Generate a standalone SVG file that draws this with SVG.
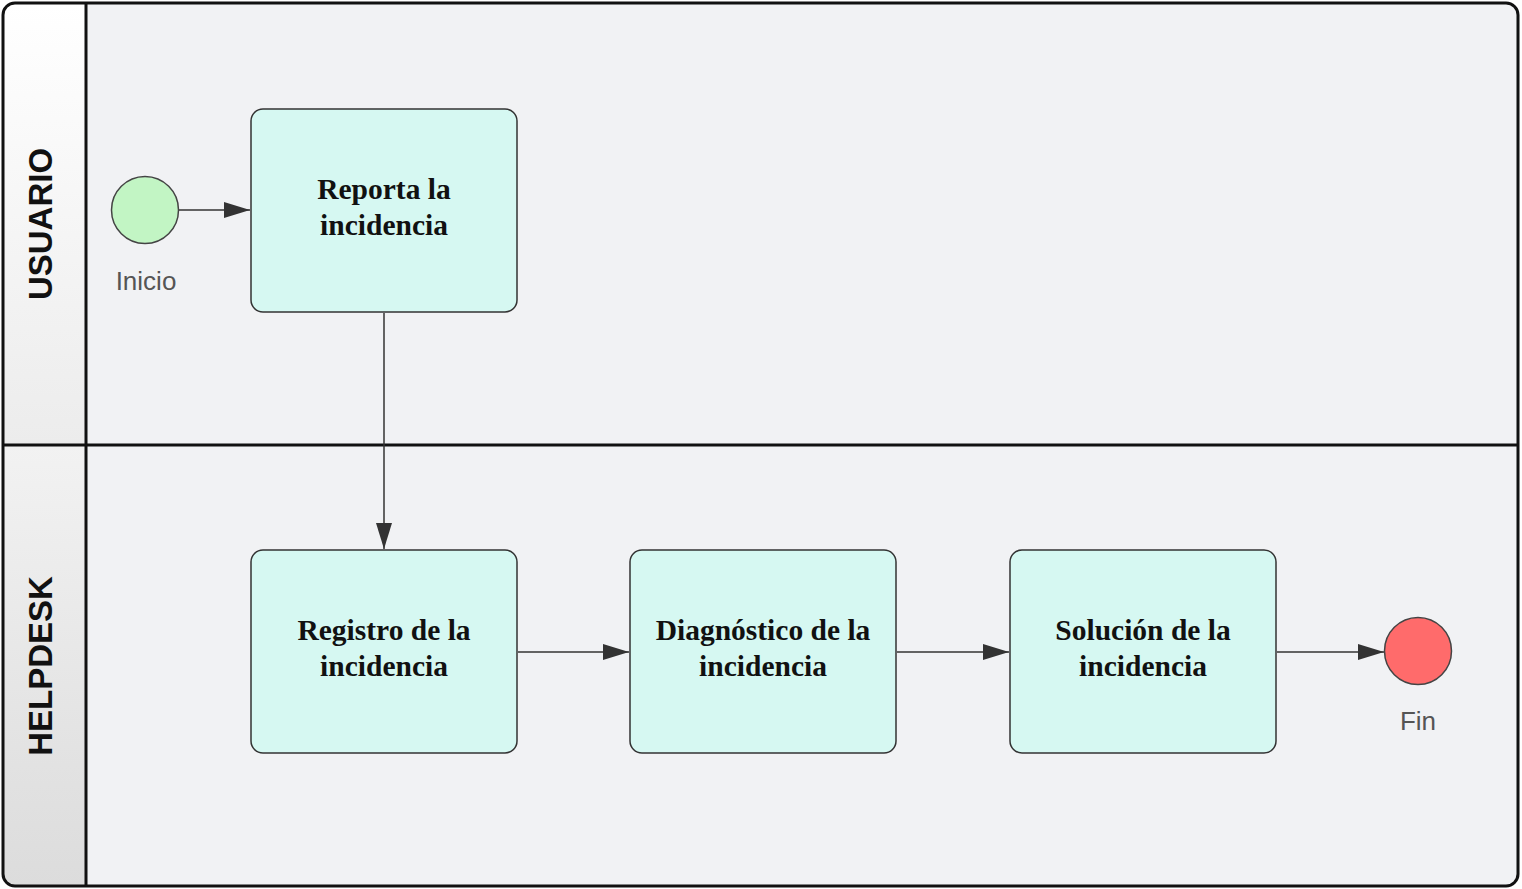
<svg xmlns="http://www.w3.org/2000/svg" width="1522" height="889" viewBox="0 0 1522 889">
<defs>
<linearGradient id="hdr1" x1="0" y1="0" x2="0" y2="1"><stop offset="0" stop-color="#ffffff"/><stop offset="1" stop-color="#ececec"/></linearGradient>
<linearGradient id="hdr2" x1="0" y1="0" x2="0" y2="1"><stop offset="0" stop-color="#f2f2f2"/><stop offset="1" stop-color="#dcdcdc"/></linearGradient>
<clipPath id="pool"><rect x="3" y="3" width="1515" height="883" rx="12"/></clipPath>
<marker id="arr" viewBox="0 0 26 16" refX="26" refY="8" markerWidth="26" markerHeight="16" markerUnits="userSpaceOnUse" orient="auto"><path d="M0,0 L26,8 L0,16 Z" fill="#333"/></marker>
</defs>
<style>
.task{fill:#d6f8f2;stroke:#333;stroke-width:1.5}
.tt{font-family:"Liberation Serif",serif;font-weight:bold;font-size:29.5px;fill:#111;text-anchor:middle}
.lane{font-family:"Liberation Sans",sans-serif;font-weight:bold;font-size:33px;fill:#111;text-anchor:middle}
.lbl{font-family:"Liberation Sans",sans-serif;font-size:26px;fill:#555;text-anchor:middle}
.conn{fill:none;stroke:#333;stroke-width:1.5;marker-end:url(#arr)}
</style>
<g id="pool-bg" clip-path="url(#pool)">
<rect x="3" y="3" width="1515" height="883" fill="#f1f2f4"/>
<rect x="3" y="3" width="83" height="442" fill="url(#hdr1)"/>
<rect x="3" y="445" width="83" height="441" fill="url(#hdr2)"/>
</g>
<g id="pool-lines" fill="none" stroke="#111" stroke-width="3">
<rect x="3" y="3" width="1515" height="883" rx="12"/>
<line x1="86" y1="3" x2="86" y2="886"/>
<line x1="3" y1="445" x2="1518" y2="445"/>
</g>
<g id="lane-usuario"><text class="lane" transform="translate(52,224) rotate(-90)">USUARIO</text></g>
<g id="lane-helpdesk"><text class="lane" transform="translate(52,666) rotate(-90)">HELPDESK</text></g>
<g id="connectors">
<line class="conn" x1="179" y1="210" x2="250" y2="210"/>
<line class="conn" x1="384" y1="313" x2="384" y2="549"/>
<line class="conn" x1="518" y1="652" x2="629" y2="652"/>
<line class="conn" x1="897" y1="652" x2="1009" y2="652"/>
<line class="conn" x1="1277" y1="652" x2="1384" y2="652"/>
</g>
<g id="start"><circle cx="145" cy="210" r="33.5" fill="#c2f5c4" stroke="#444" stroke-width="1.5"/><text class="lbl" x="146" y="290">Inicio</text></g>
<g id="task-reporta"><rect class="task" x="251" y="109" width="266" height="203" rx="12"/><text class="tt" x="384" y="199">Reporta la</text><text class="tt" x="384" y="235">incidencia</text></g>
<g id="task-registro"><rect class="task" x="251" y="550" width="266" height="203" rx="12"/><text class="tt" x="384" y="640">Registro de la</text><text class="tt" x="384" y="676">incidencia</text></g>
<g id="task-diagnostico"><rect class="task" x="630" y="550" width="266" height="203" rx="12"/><text class="tt" x="763" y="640">Diagnóstico de la</text><text class="tt" x="763" y="676">incidencia</text></g>
<g id="task-solucion"><rect class="task" x="1010" y="550" width="266" height="203" rx="12"/><text class="tt" x="1143" y="640">Solución de la</text><text class="tt" x="1143" y="676">incidencia</text></g>
<g id="end"><circle cx="1418" cy="651" r="33.5" fill="#ff6b6b" stroke="#444" stroke-width="1.5"/><text class="lbl" x="1418" y="730">Fin</text></g>
</svg>
